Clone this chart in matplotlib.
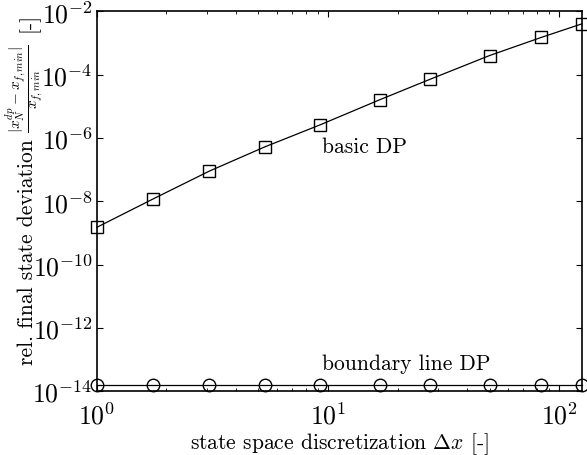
import matplotlib
matplotlib.use("Agg")
import matplotlib.pyplot as plt
from matplotlib.ticker import LogLocator, NullLocator

plt.rcParams['font.family'] = 'serif'
plt.rcParams['font.serif'] = ['cmr10']
plt.rcParams['mathtext.fontset'] = 'cm'
plt.rcParams['axes.formatter.use_mathtext'] = True

# state space grid spacing
dx = [1.0, 1.75, 3.06, 5.32, 9.25, 16.7, 27.7, 49.9, 83.6, 125.0]
# relative final state deviation
err_basic = [1.5e-9, 1.18e-8, 8.9e-8, 5.2e-7, 2.6e-6, 1.6e-5, 7.2e-5, 4.0e-4, 1.5e-3, 4.0e-3]
err_boundary = [1.6e-14] * 10

fig = plt.figure(figsize=(5.87, 4.56), dpi=100)
ax = fig.add_axes([0.165, 0.14, 0.826, 0.833])

ax.loglog(dx, err_basic, 'k-', lw=0.9, marker='s', ms=8, mfc='none', mec='k', mew=1.0, clip_on=False)
ax.loglog(dx, err_boundary, 'k-', lw=0.9, marker='o', ms=9, mfc='none', mec='k', mew=1.0, clip_on=False)

ax.set_xlim(dx[0], dx[-1])
ax.set_ylim(1e-14, 1e-2)
ax.set_yticks([10.0**k for k in range(-14, -1, 2)])
ax.yaxis.set_minor_locator(NullLocator())
ax.xaxis.set_minor_locator(LogLocator(base=10, subs=range(2, 10)))

ax.tick_params(which='both', direction='in', top=True, right=True, labelsize=18.5)
ax.tick_params(axis='x', pad=8)
ax.tick_params(axis='y', pad=3)
ax.tick_params(which='major', length=4, width=0.8)
ax.tick_params(which='minor', length=2.5, width=0.6)
for s in ax.spines.values():
    s.set_linewidth(1.2)

ax.text(9.4, 5.6e-7, 'basic DP', fontsize=15.5, ha='left', va='center')
ax.text(9.4, 7.6e-14, 'boundary line DP', fontsize=15.5, ha='left', va='center')

ax.set_xlabel(r'state space discretization $\Delta x$ [-]', fontsize=15.5, labelpad=1)

# y label split in three pieces so the fraction can be sized on its own
fig.text(27 / 587, 1 - 252 / 456, 'rel. final state deviation', fontsize=15.5,
         rotation=90, ha='center', va='center')
fig.text(24.5 / 587, 1 - 89 / 456, r'$\dfrac{|x_N^{dp}-x_{f,min}|}{x_{f,min}}$', fontsize=11,
         rotation=90, ha='center', va='center')
fig.text(29 / 587, 1 - 22 / 456, '[-]', fontsize=15.5,
         rotation=90, ha='center', va='center')

fig.savefig('out.png', dpi=100)
